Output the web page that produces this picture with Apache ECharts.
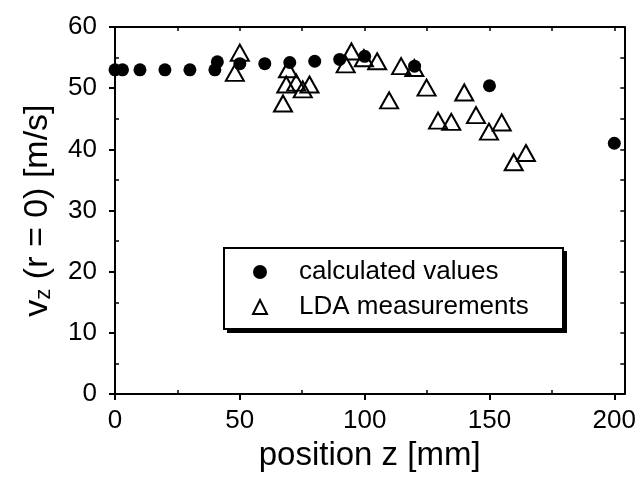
<!DOCTYPE html>
<html>
<head>
<meta charset="utf-8">
<script src="https://cdn.jsdelivr.net/npm/echarts@6/dist/echarts.min.js"></script>
<style>html,body{margin:0;padding:0;background:#fff}#c{width:639px;height:477px}</style>
</head>
<body>
<div id="c"></div>
<script>
// Data
var calcX = [0, 3, 10, 20, 30, 40, 41, 50, 60, 70, 80, 90, 100, 120, 150, 200];
var calcY = [53, 53, 53, 53, 53, 53, 54.3, 54, 54, 54.2, 54.4, 54.7, 55.2, 53.6, 50.4, 41];
var ldaX = [48, 50, 67.3, 68.6, 69.3, 72.6, 75.2, 77.9, 92.4, 94.7, 99.7, 105, 109.8, 114.6, 119.9, 124.8, 129.4, 134.7, 139.9, 144.6, 149.8, 154.9, 159.7, 164.6];
var ldaY = [52.5, 55.8, 47.5, 50.6, 53.1, 50.9, 49.8, 50.6, 53.9, 56, 54.9, 54.4, 48, 53.6, 53.3, 50.1, 44.7, 44.5, 49.3, 45.6, 42.9, 44.4, 37.9, 39.4];
var xTicks = [0, 50, 100, 150, 200];
var xMinorTicks = [25, 75, 125, 175];
var xTopTicks = [0, 25, 50, 75, 100, 125, 150, 175, 200];
var yTicks = [0, 10, 20, 30, 40, 50, 60];
var yMinorTicks = [5, 15, 25, 35, 45, 55];
var yRightTicks = [0, 5, 10, 15, 20, 25, 30, 35, 40, 45, 50, 55, 60];
var seriesNames = ['calculated values', 'LDA measurements'];

var FONT = 'Liberation Sans, Arial, Helvetica, sans-serif';
function pairs(xs, ys) { return xs.map(function (x, i) { return [x, ys[i]]; }); }
var line = { show: true, onZero: false, lineStyle: { color: '#000', width: 2 } };
var XMIN = 0, XMAX = 204, YMIN = 0, YMAX = 60;

// legend box geometry
var LG = { left: 224, top: 248, padT: 11, padR: 10, padB: 9, padL: 28, icon: 14, textPad: 27, textW: 254, rowH: 24, gap: 9 };
var lgW = LG.padL + LG.icon + 5 + LG.textPad + LG.textW + LG.padR;

var chart = echarts.init(document.getElementById('c'), null, { renderer: 'canvas' });
chart.setOption({
  animation: false,
  backgroundColor: '#fff',
  grid: { left: 115, right: 9, top: 27, bottom: 78, containLabel: false },
  xAxis: [
    { type: 'value', position: 'bottom', min: XMIN, max: XMAX, interval: 50,
      axisLine: line, splitLine: { show: false },
      axisTick: { show: true, inside: false, length: 6, lineStyle: { color: '#000', width: 2 }, customValues: xTicks },
      axisLabel: { show: true, margin: 14, fontSize: 26, color: '#000', fontFamily: FONT, customValues: xTicks },
      name: 'position z [mm]', nameLocation: 'middle', nameGap: 37,
      nameTextStyle: { fontSize: 33, color: '#000', fontFamily: FONT } },
    { type: 'value', position: 'top', min: XMIN, max: XMAX, interval: 25,
      axisLine: line, splitLine: { show: false }, axisLabel: { show: false },
      axisTick: { show: true, inside: true, length: 4, lineStyle: { color: '#000', width: 1.5 }, customValues: xTopTicks } },
    { type: 'value', position: 'bottom', min: XMIN, max: XMAX, interval: 25,
      axisLine: { show: false }, splitLine: { show: false }, axisLabel: { show: false },
      axisTick: { show: true, inside: true, length: 4, lineStyle: { color: '#000', width: 1.5 }, customValues: xMinorTicks } }
  ],
  yAxis: [
    { type: 'value', position: 'left', min: YMIN, max: YMAX, interval: 10,
      axisLine: line, splitLine: { show: false },
      axisTick: { show: true, inside: false, length: 6, lineStyle: { color: '#000', width: 2 }, customValues: yTicks },
      axisLabel: { show: true, margin: 18, fontSize: 26, color: '#000', fontFamily: FONT, customValues: yTicks },
      name: '{a|v}{b|z}{a| (r = 0) [m/s]}', nameLocation: 'middle', nameGap: 60, nameRotate: 90,
      nameTextStyle: { color: '#000', fontFamily: FONT,
        rich: { a: { fontSize: 34, color: '#000', fontFamily: FONT },
                b: { fontSize: 22, color: '#000', fontFamily: FONT, padding: [13, 0, 0, 0] } } } },
    { type: 'value', position: 'right', min: YMIN, max: YMAX, interval: 5,
      axisLine: line, splitLine: { show: false }, axisLabel: { show: false },
      axisTick: { show: true, inside: true, length: 4, lineStyle: { color: '#000', width: 1.5 }, customValues: yRightTicks } },
    { type: 'value', position: 'left', min: YMIN, max: YMAX, interval: 5,
      axisLine: { show: false }, splitLine: { show: false }, axisLabel: { show: false },
      axisTick: { show: true, inside: true, length: 4, lineStyle: { color: '#000', width: 1.5 }, customValues: yMinorTicks } }
  ],
  legend: {
    data: seriesNames, orient: 'vertical', left: LG.left, top: LG.top, z: 6,
    padding: [LG.padT, LG.padR, LG.padB, LG.padL], itemGap: LG.gap, itemWidth: LG.icon, itemHeight: LG.icon,
    backgroundColor: '#fff', borderColor: '#000', borderWidth: 2, borderRadius: 0,
    textStyle: { fontSize: 26, color: '#000', fontFamily: FONT, lineHeight: LG.rowH, width: LG.textW, padding: [0, 0, 0, LG.textPad] },
    selectedMode: false
  },
  series: [
    { name: seriesNames[1], type: 'scatter', xAxisIndex: 0, yAxisIndex: 0, z: 2,
      symbol: 'triangle', symbolSize: [18, 16],
      itemStyle: { color: 'rgba(255,255,255,0)', borderColor: '#000', borderWidth: 2, opacity: 1 },
      data: pairs(ldaX, ldaY) },
    { name: seriesNames[0], type: 'scatter', xAxisIndex: 0, yAxisIndex: 0, z: 3,
      symbol: 'circle', symbolSize: 13,
      itemStyle: { color: '#000', opacity: 1 },
      data: pairs(calcX, calcY) }
  ]
});

// drop shadow behind the legend box, sized from the rendered legend
(function () {
  var view = chart._componentsViews && chart._componentsViews.filter(function (v) { return v && v.type === 'legend.plain'; })[0];
  var r = null;
  if (view && view.group) { r = view.group.getBoundingRect(); r.applyTransform(view.group.transform); }
  var box = r ? { x: r.x, y: r.y, w: r.width, h: r.height } : { x: LG.left - 1, y: LG.top - 1, w: lgW + 2, h: 82 };
  chart.setOption({ graphic: [{ type: 'rect', z: 4, silent: true,
    shape: { x: box.x + 4, y: box.y + 4, width: box.w - 1, height: box.h - 1 }, style: { fill: '#000' } }] });
})();
</script>
</body>
</html>
